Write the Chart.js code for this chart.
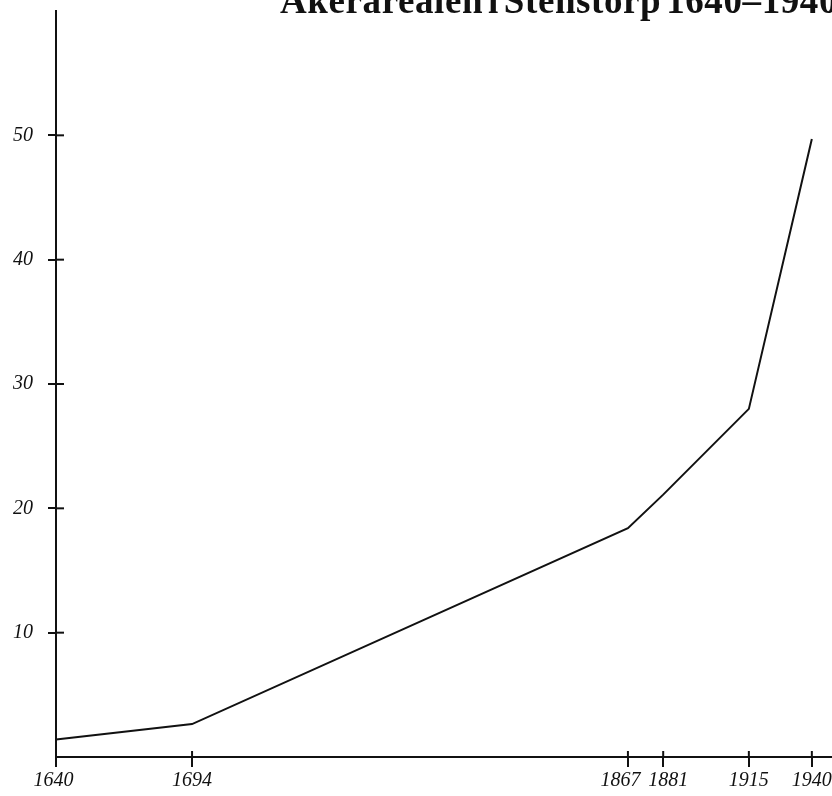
<!DOCTYPE html>
<html>
<head>
<meta charset="utf-8">
<script src="https://cdn.jsdelivr.net/npm/chart.js@4"></script>
<style>
  html,body{margin:0;padding:0;background:#fff;overflow:hidden;}
  #wrap{position:relative;width:832px;height:796px;overflow:hidden;}
  #title{position:absolute;left:280px;top:-18px;font:bold 37px "Liberation Serif",serif;line-height:37px;letter-spacing:0.6px;word-spacing:-5px;color:#111;white-space:nowrap;}
  canvas{position:absolute;left:0;top:0;}
</style>
</head>
<body>
<div id="wrap">
  <canvas id="c" width="832" height="796"></canvas>
  <div id="title">Åkerarealen i Stenstorp 1640–1940</div>
</div>
<script>
// Données
const years=[1640,1694,1867,1881,1915,1940];
const area=[1.4,2.65,18.4,21.1,28.0,49.7];
const yTicks=[10,20,30,40,50];
const xLabels=["1640 ","1694","1867   ","  1881","1915","1940"];

const tickFont={family:"Liberation Serif",style:"italic",size:20};

// petites marques à l'intérieur des axes
const innerTicks={
  id:"innerTicks",
  afterDraw(chart){
    const ctx=chart.ctx, xs=chart.scales.x, ys=chart.scales.y;
    ctx.save(); ctx.strokeStyle="#111"; ctx.lineWidth=2;
    yTicks.forEach(v=>{ const p=ys.getPixelForValue(v); ctx.beginPath(); ctx.moveTo(xs.left,p); ctx.lineTo(xs.left+8,p); ctx.stroke(); });
    years.forEach(v=>{ const p=xs.getPixelForValue(v); ctx.beginPath(); ctx.moveTo(p,ys.bottom); ctx.lineTo(p,ys.bottom-6); ctx.stroke(); });
    ctx.restore();
  }
};

new Chart(document.getElementById("c"),{
  type:"line",
  data:{datasets:[{data:years.map((y,i)=>({x:y,y:area[i]})),borderColor:"#111",borderWidth:2,pointRadius:0,fill:false,tension:0,clip:false}]},
  options:{
    responsive:false,animation:false,
    layout:{padding:{top:11,right:0,left:0,bottom:0}},
    plugins:{legend:{display:false},tooltip:{enabled:false}},
    scales:{
      x:{type:"linear",min:1640,max:1948,
        afterBuildTicks(s){ s.ticks=years.map(v=>({value:v})); },
        afterFit(s){ s.height=39; s.paddingLeft=0; s.paddingRight=0; },
        grid:{drawOnChartArea:false,drawTicks:true,tickLength:10,color:"#111",lineWidth:2},
        border:{display:true,color:"#111",width:2},
        ticks:{autoSkip:false,maxRotation:0,padding:2,color:"#111",font:tickFont,
          callback:v=>xLabels[years.indexOf(v)]}},
      y:{type:"linear",min:0,max:60,
        afterBuildTicks(s){ s.ticks=yTicks.map(v=>({value:v})); },
        afterFit(s){ s.width=56; s.paddingTop=0; s.paddingBottom=0; },
        grid:{drawOnChartArea:false,drawTicks:true,tickLength:8,color:"#111",lineWidth:2},
        border:{display:true,color:"#111",width:2},
        ticks:{padding:15,color:"#111",font:tickFont}}
    }
  },
  plugins:[innerTicks]
});
</script>
</body>
</html>
